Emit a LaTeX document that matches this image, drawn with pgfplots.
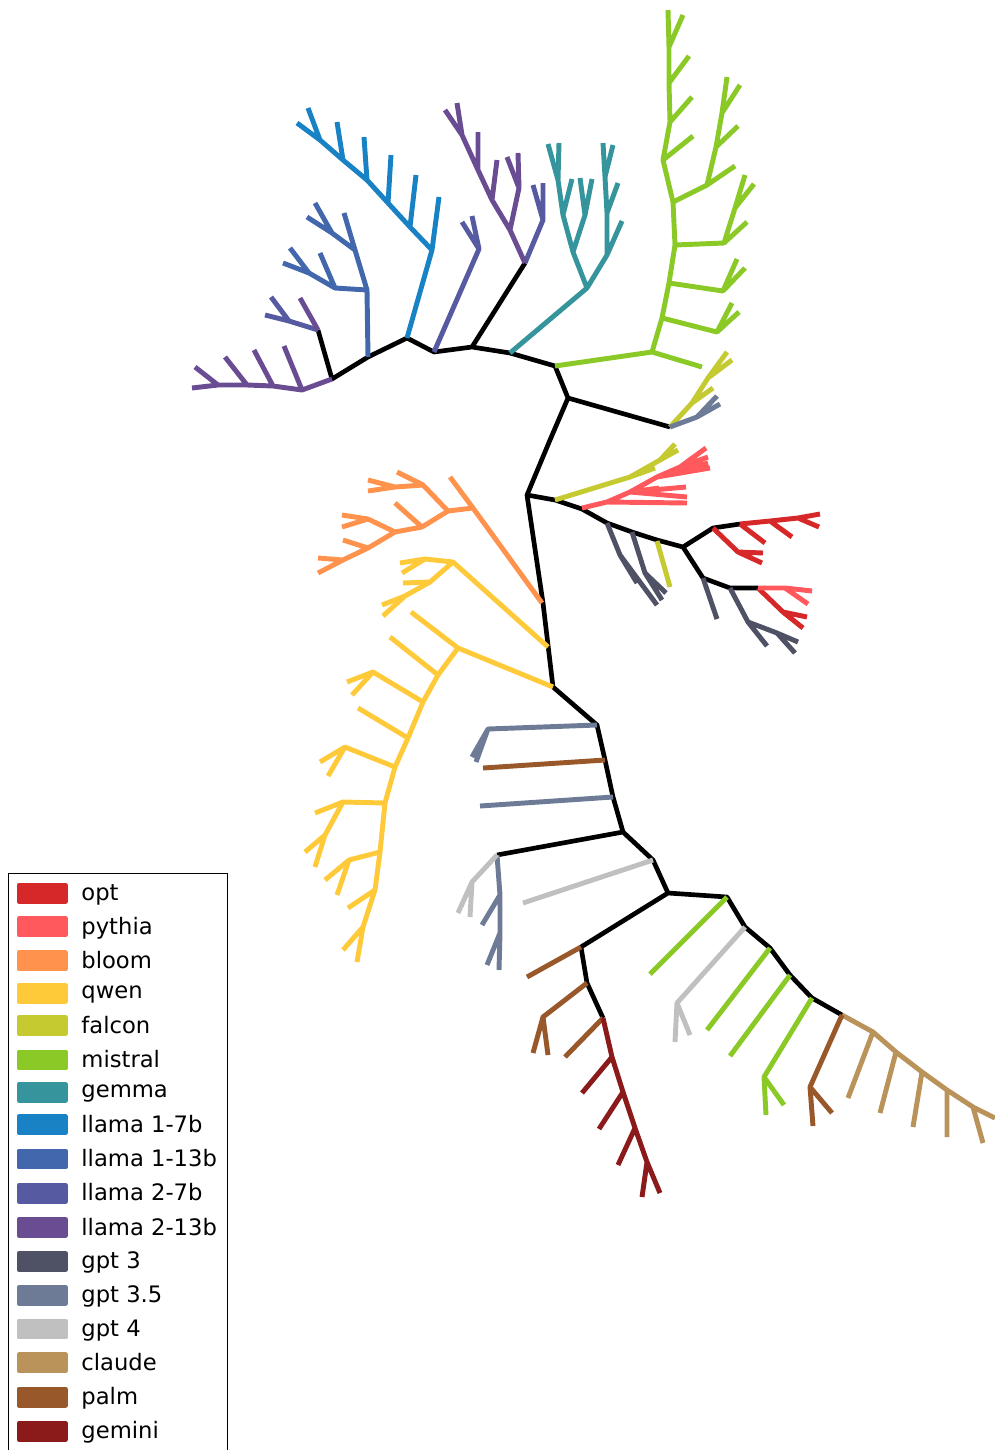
\documentclass[border=0pt]{standalone}
\usepackage{fontspec}
\setmainfont{DejaVu Sans}
\usepackage{pgfplots}
\pgfplotsset{compat=1.18}
\definecolor{cOpt}{HTML}{D62828}
\definecolor{cPythia}{HTML}{FF595E}
\definecolor{cBloom}{HTML}{FF924C}
\definecolor{cQwen}{HTML}{FFCA3A}
\definecolor{cFalcon}{HTML}{C5CA30}
\definecolor{cMistral}{HTML}{8AC926}
\definecolor{cGemma}{HTML}{36949D}
\definecolor{cLlamaOneSeven}{HTML}{1982C4}
\definecolor{cLlamaOneThirteen}{HTML}{4267AC}
\definecolor{cLlamaTwoSeven}{HTML}{565AA0}
\definecolor{cLlamaTwoThirteen}{HTML}{6A4C93}
\definecolor{cGptThree}{HTML}{4F5165}
\definecolor{cGptThreeFive}{HTML}{6D7B96}
\definecolor{cGptFour}{HTML}{C0C0C0}
\definecolor{cClaude}{HTML}{B9935A}
\definecolor{cPalm}{HTML}{99582A}
\definecolor{cGemini}{HTML}{8B1A1A}
\pgfplotsset{
  br/.style={line width=3.7pt, line join=round, line cap=butt, color=#1, mark=none,
    legend image code/.code={\fill[##1] (0pt,-6pt) rectangle (35pt,6pt);}},
}
\begin{document}
\begin{tikzpicture}
\begin{axis}[
  hide axis, scale only axis,
  width=746.25pt, height=1087.5pt,
  xmin=0, xmax=995, ymin=0, ymax=1450, y dir=reverse,
  clip=false, unbounded coords=jump,
  legend cell align=left,
  legend style={at={(axis cs:8,873)}, anchor=north west, draw=black, line width=0.75pt,
    font=\fontsize{17pt}{20pt}\selectfont, row sep=7.25pt, inner xsep=6pt, inner ysep=6pt,
    /tikz/every odd column/.append style={column sep=8pt}},
]
% black trunk
\addplot[line width=3.5pt, line join=round, color=black, forget plot] coordinates {
(318,330) (332,379) (368,357) (407,338) (434,352) (472,347) (510,353) (555,366) (568,398) (670,427) (nan,nan)
(472,347) (525,263) (nan,nan)
(568,398) (550,440) (527,495) (543,603) (553,687) (597,725) (605,760) (613,797) (623,832) (653,860) (668,893) (727,897) (745,927) (770,948) (790,975) (812,998) (842,1015) (nan,nan)
(527,495) (555,500) (582,509) (607,523) (632,532) (657,540) (683,547) (713,528) (740,524) (nan,nan)
(683,547) (703,578) (730,588) (758,588) (nan,nan)
(623,832) (497,855) (nan,nan)
(668,893) (581,947) (587,983) (603,1018)
};
% opt
\addplot[br=cOpt] coordinates {
(740,524) (770,521) (798,518) (820,514) (nan,nan)
(740,524) (765,543) (nan,nan)
(770,521) (792,537) (nan,nan)
(798,518) (819,527) (nan,nan)
(713,528) (738,552) (763,553) (nan,nan)
(738,552) (762,563) (nan,nan)
(758,588) (783,612) (807,617) (nan,nan)
(783,612) (803,628)
};
\addlegendentry{opt}
% pythia
\addplot[br=cPythia] coordinates {
(582,508) (607,502) (687,503) (nan,nan)
(607,502) (630,492) (687,497) (nan,nan)
(630,492) (659,488) (nan,nan)
(630,492) (686,487) (nan,nan)
(630,492) (657,477) (680,467) (706,448) (nan,nan)
(680,467) (708,457) (nan,nan)
(657,477) (708,463) (nan,nan)
(657,477) (710,468) (nan,nan)
(758,588) (785,588) (812,591) (nan,nan)
(785,588) (808,604)
};
\addlegendentry{pythia}
% bloom
\addplot[br=cBloom] coordinates {
(542,603) (473,508) (450,477) (nan,nan)
(473,508) (448,511) (423,485) (397,472) (nan,nan)
(423,485) (395,487) (368,480) (nan,nan)
(395,487) (368,491) (nan,nan)
(448,511) (422,527) (395,503) (nan,nan)
(422,527) (395,532) (368,519) (342,515) (nan,nan)
(368,519) (342,527) (nan,nan)
(395,532) (368,548) (343,540) (nan,nan)
(368,548) (343,560) (318,558) (nan,nan)
(343,560) (318,573)
};
\addlegendentry{bloom}
% qwen
\addplot[br=cQwen] coordinates {
(548,647) (453,562) (425,559) (400,563) (nan,nan)
(425,559) (402,573) (nan,nan)
(453,562) (430,582) (403,583) (nan,nan)
(430,582) (405,596) (382,605) (nan,nan)
(405,596) (383,616) (nan,nan)
(553,687) (458,648) (411,612) (nan,nan)
(458,648) (438,675) (423,702) (408,738) (395,767) (385,803) (380,852) (375,890) (363,927) (357,962) (nan,nan)
(438,675) (390,637) (nan,nan)
(423,702) (373,672) (347,682) (nan,nan)
(373,672) (352,695) (nan,nan)
(408,738) (358,708) (nan,nan)
(395,767) (345,747) (320,762) (nan,nan)
(345,747) (328,776) (nan,nan)
(385,803) (343,802) (315,813) (nan,nan)
(343,802) (325,835) (305,852) (nan,nan)
(325,835) (315,867) (nan,nan)
(380,852) (349,860) (325,880) (nan,nan)
(349,860) (337,895) (nan,nan)
(375,890) (348,908) (nan,nan)
(363,927) (343,950)
};
\addlegendentry{qwen}
% falcon
\addplot[br=cFalcon] coordinates {
(670,427) (692,403) (713,388) (nan,nan)
(692,403) (708,378) (727,352) (nan,nan)
(708,378) (732,360) (nan,nan)
(555,500) (630,477) (660,460) (675,444) (nan,nan)
(660,460) (678,450) (nan,nan)
(630,477) (655,468) (nan,nan)
(657,541) (670,587)
};
\addlegendentry{falcon}
% mistral
\addplot[br=cMistral] coordinates {
(555,366) (652,352) (702,367) (nan,nan)
(652,352) (662,318) (669,283) (675,245) (673,202) (663,160) (670,122) (669,83) (669,47) (668,10) (nan,nan)
(662,318) (717,332) (732,303) (nan,nan)
(717,332) (739,312) (nan,nan)
(669,283) (723,291) (737,259) (nan,nan)
(723,291) (745,268) (nan,nan)
(675,245) (724,243) (735,208) (745,175) (nan,nan)
(735,208) (754,184) (nan,nan)
(724,243) (747,222) (nan,nan)
(673,202) (707,185) (735,166) (nan,nan)
(707,185) (716,147) (738,126) (nan,nan)
(716,147) (722,113) (727,77) (nan,nan)
(722,113) (740,85) (nan,nan)
(663,160) (693,136) (nan,nan)
(670,122) (692,97) (nan,nan)
(669,83) (689,56) (nan,nan)
(669,47) (683,15) (nan,nan)
(727,897) (650,974) (nan,nan)
(770,948) (707,1030) (nan,nan)
(790,975) (730,1056) (nan,nan)
(812,998) (764,1077) (766,1115) (nan,nan)
(764,1077) (784,1105)
};
\addlegendentry{mistral}
% gemma
\addplot[br=cGemma] coordinates {
(510,353) (587,288) (573,252) (563,215) (558,180) (548,144) (nan,nan)
(558,180) (559,143) (nan,nan)
(563,215) (572,179) (nan,nan)
(573,252) (585,215) (580,178) (nan,nan)
(585,215) (592,179) (nan,nan)
(587,288) (607,255) (622,221) (nan,nan)
(607,255) (607,213) (618,183) (nan,nan)
(607,213) (605,177) (603,143) (nan,nan)
(605,177) (613,145)
};
\addlegendentry{gemma}
% llama 1-7b
\addplot[br=cLlamaOneSeven] coordinates {
(407,338) (432,250) (439,197) (nan,nan)
(432,250) (410,227) (388,203) (367,180) (343,160) (320,140) (297,123) (nan,nan)
(410,227) (416,175) (nan,nan)
(388,203) (391,155) (nan,nan)
(367,180) (364,137) (nan,nan)
(343,160) (337,122) (nan,nan)
(320,140) (308,108)
};
\addlegendentry{llama 1-7b}
% llama 1-13b
\addplot[br=cLlamaOneThirteen] coordinates {
(368,357) (367,290) (335,288) (309,273) (290,248) (nan,nan)
(309,273) (283,263) (nan,nan)
(335,288) (320,253) (nan,nan)
(367,290) (355,250) (332,233) (307,217) (nan,nan)
(332,233) (315,203) (nan,nan)
(355,250) (344,213)
};
\addlegendentry{llama 1-13b}
% llama 2-7b
\addplot[br=cLlamaTwoSeven] coordinates {
(318,330) (289,321) (265,315) (nan,nan)
(289,321) (271,297) (nan,nan)
(434,352) (479,249) (462,222) (nan,nan)
(479,249) (472,216) (nan,nan)
(525,263) (543,220) (533,185) (nan,nan)
(543,220) (543,183)
};
\addlegendentry{llama 2-7b}
% llama 2-13b
\addplot[br=cLlamaTwoThirteen] coordinates {
(192,388) (218,385) (247,385) (273,386) (302,390) (332,379) (nan,nan)
(195,367) (218,385) (nan,nan)
(225,357) (247,385) (nan,nan)
(254,350) (273,386) (nan,nan)
(284,346) (302,390) (nan,nan)
(318,330) (300,298) (nan,nan)
(525,263) (510,230) (492,200) (478,170) (462,135) (445,110) (nan,nan)
(462,135) (457,103) (nan,nan)
(478,170) (478,132) (nan,nan)
(492,200) (497,160) (nan,nan)
(510,230) (519,188) (507,157) (nan,nan)
(519,188) (518,153)
};
\addlegendentry{llama 2-13b}
% gpt 3
\addplot[br=cGptThree] coordinates {
(607,523) (620,555) (637,583) (nan,nan)
(620,555) (657,605) (nan,nan)
(632,532) (645,573) (666,593) (nan,nan)
(645,573) (662,600) (nan,nan)
(703,578) (717,619) (nan,nan)
(730,588) (748,622) (767,646) (nan,nan)
(748,622) (777,633) (798,642) (nan,nan)
(777,633) (795,653)
};
\addlegendentry{gpt 3}
% gpt 3.5
\addplot[br=cGptThreeFive] coordinates {
(670,427) (697,417) (717,396) (nan,nan)
(697,417) (720,404) (nan,nan)
(597,725) (488,729) (472,757) (nan,nan)
(488,729) (476,762) (nan,nan)
(613,797) (480,806) (nan,nan)
(497,855) (500,895) (500,933) (499,970) (nan,nan)
(500,895) (482,925) (nan,nan)
(500,933) (487,965)
};
\addlegendentry{gpt 3.5}
% gpt 4
\addplot[br=cGptFour] coordinates {
(497,855) (472,882) (458,913) (nan,nan)
(472,882) (470,917) (nan,nan)
(653,860) (523,903) (nan,nan)
(745,927) (677,1003) (675,1042) (nan,nan)
(677,1003) (690,1035)
};
\addlegendentry{gpt 4}
% claude
\addplot[br=cClaude] coordinates {
(842,1015) (873,1032) (896,1052) (922,1072) (947,1090) (973,1107) (995,1118) (nan,nan)
(873,1032) (848,1098) (nan,nan)
(896,1052) (880,1113) (nan,nan)
(922,1072) (913,1127) (nan,nan)
(947,1090) (947,1137) (nan,nan)
(973,1107) (983,1143)
};
\addlegendentry{claude}
% palm
\addplot[br=cPalm] coordinates {
(605,760) (483,768) (nan,nan)
(581,947) (527,977) (nan,nan)
(587,983) (543,1017) (533,1053) (nan,nan)
(543,1017) (548,1055) (nan,nan)
(603,1018) (565,1057) (nan,nan)
(842,1015) (810,1087) (813,1126) (nan,nan)
(810,1087) (832,1113)
};
\addlegendentry{palm}
% gemini
\addplot[br=cGemini] coordinates {
(603,1018) (612,1057) (623,1092) (635,1128) (647,1162) (660,1193) (nan,nan)
(612,1057) (582,1093) (nan,nan)
(623,1092) (599,1129) (nan,nan)
(635,1128) (618,1165) (nan,nan)
(647,1162) (642,1197)
};
\addlegendentry{gemini}
\end{axis}
\pgfresetboundingbox
\path[use as bounding box] (current axis.south west) rectangle (current axis.north east);
\end{tikzpicture}
\end{document}
